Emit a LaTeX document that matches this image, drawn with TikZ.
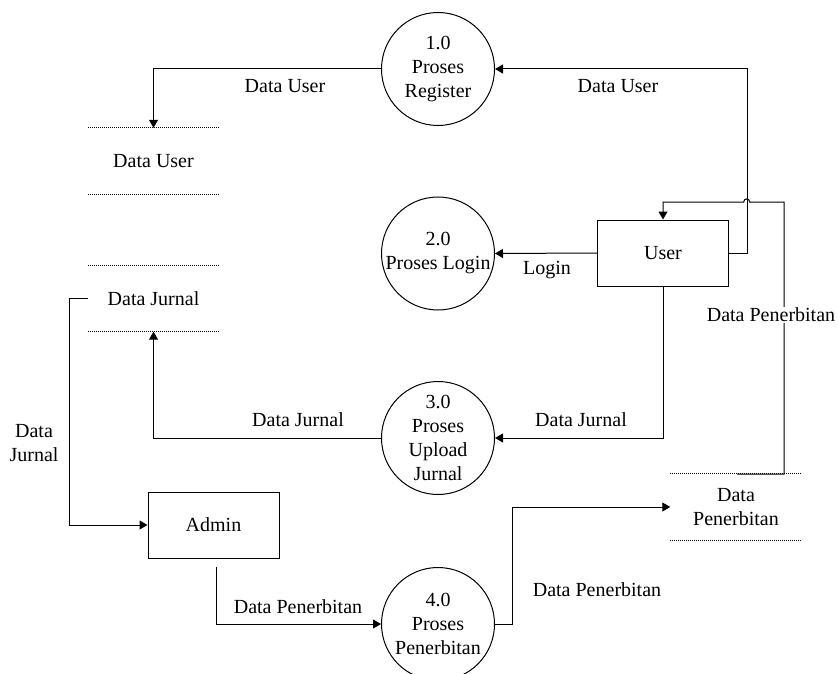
\documentclass[tikz,border=0pt]{standalone}
\usepackage{fontspec}
\setmainfont{Liberation Serif}
\usetikzlibrary{arrows.meta}

\begin{document}
\begin{tikzpicture}[x=1pt,y=-1pt,
  every node/.style={font=\fontsize{20}{24}\selectfont, align=center},
  proc/.style={draw, circle, line width=1pt, minimum size=113pt, inner sep=0pt},
  ext/.style={draw, rectangle, line width=1pt, minimum width=131pt, minimum height=66pt, inner sep=0pt},
  store/.style={minimum width=131pt, minimum height=66pt, inner sep=0pt},
  storeline/.style={line width=0.9pt, dash pattern=on 1pt off 1pt},
  flow/.style={line width=1pt, -{Triangle[length=8pt,width=9pt]}},
  lbl/.style={inner sep=1pt}]
\useasboundingbox (0,0) rectangle (838,674);

% processes
\node[proc] (p1) at (438,69)    {1.0\\Proses\\Register};
\node[proc] (p2) at (438,253.5) {2.0\\Proses Login};
\node[proc] (p3) at (438,438)   {3.0\\Proses\\Upload\\Jurnal};
\node[proc] (p4) at (438,624)   {4.0\\Proses\\Penerbitan};

% external entities
\node[ext] (user)  at (663,253)   {User};
\node[ext] (admin) at (213.5,525) {Admin};

% data stores: open-ended boxes with dotted top and bottom
\node[store] (dsuser)   at (153.5,161)   {Data User};
\node[store] (dsjurnal) at (153.5,298.5) {Data Jurnal};
\node[store] (dspen)    at (736,507)     {Data\\Penerbitan};
\foreach \s in {dsuser,dsjurnal,dspen}{
  \draw[storeline] (\s.north west) -- (\s.north east);
  \draw[storeline] (\s.south west) -- (\s.south east);
}

% data flows
\draw[flow] (user.east) -- ++(18.7,0) |- (p1.east);
\draw[flow] (p1.west) -| (dsuser.north);
\draw[flow] (user.west) -- (p2.east);
\draw[flow] (user.south) |- (p3.east);
\draw[flow] (p3.west) -| (dsjurnal.south);
\draw[flow] (dsjurnal.west) -- ++(-18,0) |- (admin.west);
\coordinate (adminout) at (216.7,567);
\draw[flow] (adminout) |- (p4.west);
\draw[flow] (p4.east) -- ++(17,0) |- (dspen.west);
\coordinate (penout) at (737,474);
% return flow, hopping over the User -> 1.0 line
\draw[flow] (penout) -- (784,474) -- (784,202) -- (749.7,202)
  .. controls (749.7,198) and (743.7,198) .. (743.7,202)
  -- (663,202) -- (user.north);

% flow labels
\node[lbl] (l1) at (285,86)  {Data User};
\node[lbl] (l2) at (618,86)  {Data User};
\node[lbl] (l3) at (547,270) {Login};
\node[lbl] (l4) at (298,420) {Data Jurnal};
\node[lbl] (l5) at (581,420) {Data Jurnal};
\node[lbl] (l6) at (34,443)  {Data\\Jurnal};
\node[lbl] (l7) at (298,607) {Data Penerbitan};
\node[lbl] (l8) at (597,590) {Data Penerbitan};
\node[lbl, fill=white] (l9) at (771,315) {Data Penerbitan};
\end{tikzpicture}
\end{document}
